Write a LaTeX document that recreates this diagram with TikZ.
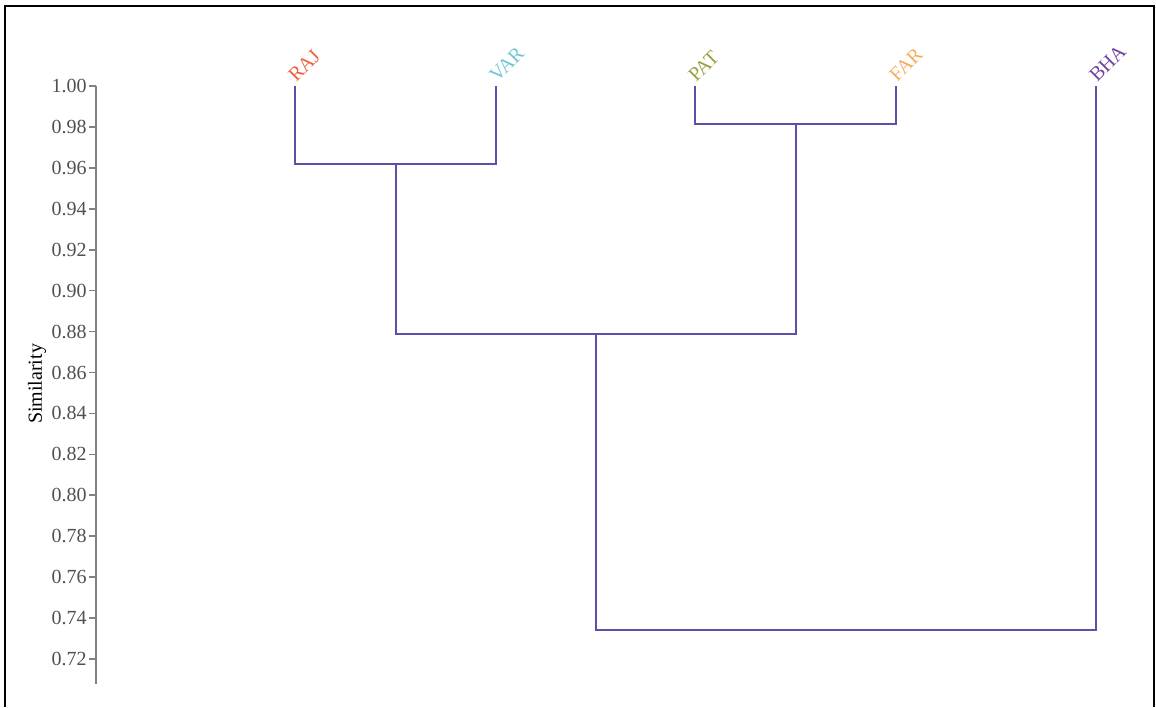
\documentclass[tikz,border=0pt]{standalone}
\usepackage{fontspec}
\setmainfont{Liberation Serif}
\usetikzlibrary{positioning}
\definecolor{linkc}{RGB}{92,80,168}
\definecolor{axisc}{RGB}{130,130,130}
\definecolor{tickc}{RGB}{80,80,80}
\definecolor{rajc}{RGB}{238,96,62}
\definecolor{varc}{RGB}{112,198,210}
\definecolor{patc}{RGB}{158,158,62}
\definecolor{farc}{RGB}{246,172,90}
\definecolor{bhac}{RGB}{112,66,160}
\tikzset{
  link/.style={draw=linkc,line width=1pt},
  axis/.style={draw=axisc,line width=0.8pt},
  frame/.style={draw=black,line width=0.8pt},
  ticklab/.style={text=tickc,font=\fontsize{10}{12}\selectfont,anchor=east,inner sep=0pt},
  leaf/.style={text=#1,font=\fontsize{10}{12}\selectfont,rotate=45,anchor=base west,inner sep=0pt},
  leaf/.default=black,
  ylab/.style={font=\fontsize{10}{12}\selectfont,rotate=90},
}
\begin{document}
\begin{tikzpicture}[x=0.5pt,y=0.5pt]
  \useasboundingbox (0,0) rectangle (1156,707);
  \draw[frame] (5,0) -- (5,701) -- (1154,701) -- (1154,0);
  % similarity axis
  \draw[axis] (96,621) -- (96,23);
  \foreach \v [count=\k from 0] in {1.00,0.98,0.96,0.94,0.92,0.90,0.88,0.86,0.84,0.82,0.80,0.78,0.76,0.74,0.72}{
    \draw[axis] (89,621-40.93*\k) -- (96,621-40.93*\k);
    \node[ticklab] (t\k) at (87,621-40.93*\k) {\v};
  }
  \node[ylab] (sim) at (37,323) {Similarity};
  % leaves
  \foreach \x/\l/\c in {295/RAJ/rajc,496/VAR/varc,695/PAT/patc,896/FAR/farc,1096/BHA/bhac}{
    \coordinate (\l) at (\x,621);
    \node[leaf=\c] (lab\l) at ([xshift=0.5pt,yshift=1.5pt]\l) {\l};
  }
  % merge points
  \coordinate (m1) at (395.5,543);
  \coordinate (m2) at (795.5,583);
  \coordinate (m3) at (595.5,373);
  \coordinate (m4) at (845.75,77);
  \draw[link] (RAJ) |- (m1) -| (VAR);
  \draw[link] (PAT) |- (m2) -| (FAR);
  \draw[link] (m1) |- (m3) -| (m2);
  \draw[link] (m3) |- (m4) -| (BHA);
\end{tikzpicture}
\end{document}
